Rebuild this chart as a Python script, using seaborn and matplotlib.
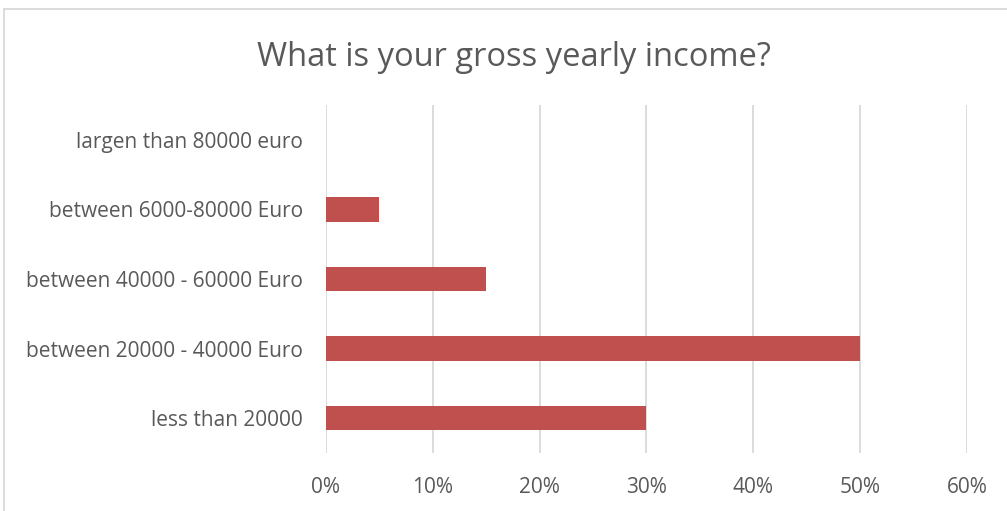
import matplotlib
matplotlib.use("Agg")
import matplotlib.pyplot as plt
from matplotlib.lines import Line2D
from matplotlib.ticker import FuncFormatter, MultipleLocator
import seaborn as sns
import pandas as pd

categories = [
    "largen than 80000 euro",
    "between 6000-80000 Euro",
    "between 40000 - 60000 Euro",
    "between 20000 - 40000 Euro",
    "less than 20000",
]
shares = [0.0, 0.05, 0.15, 0.50, 0.30]

df = pd.DataFrame({"category": categories, "share": shares})

sns.set_theme(style="white")
plt.rcParams["font.family"] = ["Open Sans", "DejaVu Sans"]

text_color = "#595959"
bar_color = "#C0504D"
grid_color = "#D9D9D9"

fig = plt.figure(figsize=(10.07, 5.11), dpi=100)
ax = fig.add_axes([0.3237, 0.1135, 0.9603 - 0.3237, 0.7945 - 0.1135])

sns.barplot(data=df, x="share", y="category", order=categories,
            color=bar_color, width=0.35, saturation=1, ax=ax,
            edgecolor="none")

ax.set_xlim(0, 0.6)
ax.xaxis.set_major_locator(MultipleLocator(0.1))
ax.xaxis.set_major_formatter(FuncFormatter(lambda v, _: f"{v*100:.0f}%"))
ax.grid(axis="x", color=grid_color, linewidth=1.3)
ax.set_axisbelow(True)
for s in ax.spines.values():
    s.set_visible(False)
ax.set_xlabel("")
ax.set_ylabel("")
ax.tick_params(axis="both", length=0, labelsize=15, colors=text_color)
ax.tick_params(axis="x", pad=17)
ax.tick_params(axis="y", pad=16.5)

fig.text(0.5104, 0.888, "What is your gross yearly income?", ha="center", va="center",
         fontsize=23.5, color=text_color)

# chart frame edges
fig.add_artist(Line2D([0.0035, 0.0035], [0, 0.982], transform=fig.transFigure,
                      color=grid_color, linewidth=1.3))
fig.add_artist(Line2D([0.0035, 1.0], [0.982, 0.982], transform=fig.transFigure,
                      color=grid_color, linewidth=1.3))

fig.savefig("out.png", dpi=100, facecolor="white")
